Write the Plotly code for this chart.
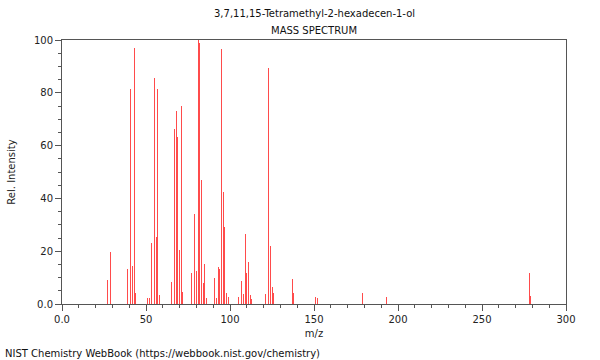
import plotly.graph_objects as go

mz = [27, 29, 39, 41, 42, 43, 44, 51, 52, 53, 55, 56, 57, 58, 65, 67, 68, 69, 70, 71, 72,
      77, 79, 80, 81, 82, 83, 84, 85, 86, 91, 92, 93, 94, 95, 96, 97, 98, 99,
      105, 107, 108, 109, 110, 111, 112, 113, 121, 123, 124, 125, 126, 137, 138,
      151, 152, 179, 193, 278, 279]
intensity = [9.1, 19.6, 13.3, 81.3, 14.5, 96.8, 4.2, 2.4, 2.4, 23.0, 85.5, 25.5, 81.3, 3.4,
             8.2, 66.3, 73.1, 63.3, 20.5, 75.0, 4.4,
             11.6, 34.2, 12.6, 100.0, 99.0, 47.0, 7.8, 15.2, 2.4, 9.7, 2.4, 13.9, 13.3,
             96.6, 42.3, 29.2, 4.3, 2.8,
             2.8, 8.8, 3.7, 26.5, 11.6, 15.9, 3.4, 2.0, 3.7, 89.5, 21.9, 6.6, 4.3, 9.4, 4.3,
             2.8, 2.4, 4.3, 2.8, 11.6, 3.0]

x_ticks = [0, 50, 100, 150, 200, 250, 300]
x_tick_text = ["0.0", "50", "100", "150", "200", "250", "300"]
y_ticks = [0, 20, 40, 60, 80, 100]
y_tick_text = ["0.0", "20", "40", "60", "80", "100"]

title_line1 = "3,7,11,15-Tetramethyl-2-hexadecen-1-ol"
title_line2 = "MASS SPECTRUM"
footer = "NIST Chemistry WebBook (https://webbook.nist.gov/chemistry)"

FONT = "DejaVu Sans"
AX = "#555555"

fig = go.Figure()
fig.add_trace(go.Bar(x=mz, y=intensity, width=0.6,
                     marker=dict(color="rgba(255,30,30,0.8)", line=dict(width=0))))

fig.update_layout(
    width=600, height=360,
    margin=dict(l=62, r=34, t=40, b=56, autoexpand=False),
    paper_bgcolor="white", plot_bgcolor="white",
    showlegend=False,
    font=dict(family=FONT, size=10, color="#222222"),
    bargap=0,
)
fig.update_xaxes(
    range=[0, 300], tickmode="array", tickvals=x_ticks, ticktext=x_tick_text,
    ticks="outside", ticklen=6, tickcolor=AX, tickwidth=1,
    minor=dict(dtick=10, tick0=0, ticks="outside", ticklen=3, tickcolor=AX, showgrid=False),
    showline=True, linecolor=AX, linewidth=1, mirror=True,
    showgrid=False, zeroline=False, automargin=False,
    title=dict(text="m/z", font=dict(family=FONT, size=10), standoff=5),
    tickfont=dict(family=FONT, size=10),
)
fig.update_yaxes(
    range=[0, 100], tickmode="array", tickvals=y_ticks, ticktext=y_tick_text,
    ticks="outside", ticklen=6, tickcolor=AX, tickwidth=1,
    minor=dict(dtick=5, tick0=0, ticks="outside", ticklen=3, tickcolor=AX, showgrid=False),
    showline=True, linecolor=AX, linewidth=1, mirror=True,
    showgrid=False, zeroline=False, automargin=False,
    title=dict(text="Rel. Intensity", font=dict(family=FONT, size=10), standoff=16),
    tickfont=dict(family=FONT, size=10),
)

fig.add_annotation(text=title_line1, xref="paper", yref="paper", x=0.5, y=1,
                   yshift=27, showarrow=False, xanchor="center", yanchor="middle",
                   font=dict(family=FONT, size=10, color="#111111"))
fig.add_annotation(text=title_line2, xref="paper", yref="paper", x=0.5, y=1,
                   yshift=10, showarrow=False, xanchor="center", yanchor="middle",
                   font=dict(family=FONT, size=10, color="#111111"))
fig.add_annotation(text=footer, xref="paper", yref="paper", x=0, y=0,
                   xshift=-59, yshift=-49, showarrow=False, xanchor="left", yanchor="middle",
                   font=dict(family=FONT, size=10, color="#111111"))

# remove the browser's default 8px body margin so the figure fills the window
fig.write_html("out.html", config={"displayModeBar": False},
               post_script="document.body.style.margin='0';")
